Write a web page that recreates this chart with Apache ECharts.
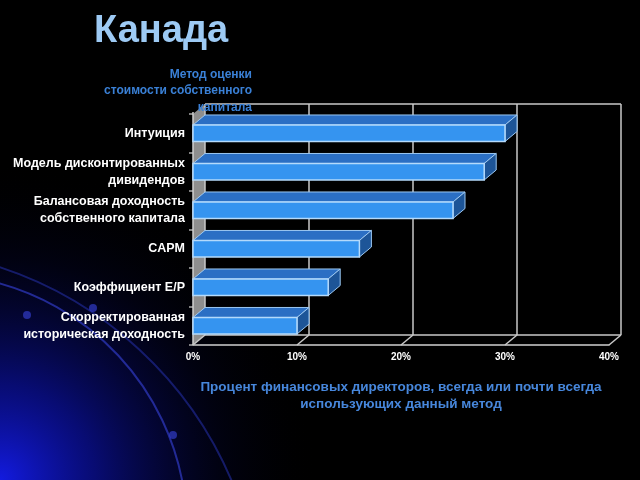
<!DOCTYPE html>
<html><head><meta charset="utf-8">
<script src="https://cdn.jsdelivr.net/npm/echarts@6/dist/echarts.min.js"></script>
<style>html,body{margin:0;padding:0;background:#000;}#c{width:640px;height:480px;}</style>
</head><body><div id="c"></div>
<script>
const categories = ['Интуиция','Модель дисконтированных\nдивидендов','Балансовая доходность\nсобственного капитала','CAPM','Коэффициент E/P','Скорректированная\nисторическая доходность'];
const values = [30, 28, 25, 16, 13, 10];
const xTicks = [0, 10, 20, 30, 40];
const titleText = 'Канада';
const yName = 'Метод оценки\nстоимости собственного\nкапитала';
const xName = 'Процент финансовых директоров, всегда или почти всегда\nиспользующих данный метод';

const DX = 12, DY = 10;
const FONT = '"Liberation Sans", Arial, sans-serif';
const chart = echarts.init(document.getElementById('c'), null, {renderer:'canvas'});

function frameItem(params, api){
  const cs = params.coordSys;
  const x0 = cs.x, y0 = cs.y, w = cs.width, h = cs.height;
  const ls = {stroke:'#c8c8c8', lineWidth:1.5};
  return {type:'group', children:[
    {type:'polygon', shape:{points:[[x0,y0],[x0+DX,y0-DY],[x0+DX,y0+h-DY],[x0,y0+h]]}, style:{fill:'#8e8e8e'}},
    {type:'line', shape:{x1:x0+DX,y1:y0-DY,x2:x0+w+DX,y2:y0-DY}, style:ls},
    {type:'line', shape:{x1:x0+DX,y1:y0+h-DY,x2:x0+w+DX,y2:y0+h-DY}, style:ls},
    {type:'line', shape:{x1:x0,y1:y0-2,x2:x0,y2:y0+h}, style:{stroke:'#d0d0d0', lineWidth:1.5}}
  ]};
}
function gridItem(params, api){
  const cs = params.coordSys;
  const y0 = cs.y, h = cs.height;
  const px = api.coord([api.value(0), 0])[0];
  const ls = {stroke:'#c8c8c8', lineWidth:1.5};
  return {type:'group', children:[
    {type:'line', shape:{x1:px+DX,y1:y0-DY,x2:px+DX,y2:y0+h-DY}, style:ls},
    {type:'line', shape:{x1:px,y1:y0+h,x2:px+DX,y2:y0+h-DY}, style:ls}
  ]};
}
function barItem(params, api){
  const start = api.coord([0, api.value(1)]);
  const end = api.coord([api.value(0), api.value(1)]);
  const bh = api.size([0,1])[1]*0.43;
  const x0 = start[0], x1 = end[0], y = end[1]-bh/2;
  return {type:'group', children:[
    {type:'polygon', shape:{points:[[x0,y],[x0+DX,y-DY],[x1+DX,y-DY],[x1,y]]}, style:{fill:'#2b6fc4', stroke:'#9cc8f2', lineWidth:1}},
    {type:'polygon', shape:{points:[[x1,y],[x1+DX,y-DY],[x1+DX,y+bh-DY],[x1,y+bh]]}, style:{fill:'#1d5598', stroke:'#9cc8f2', lineWidth:1}},
    {type:'rect', shape:{x:x0,y:y,width:x1-x0,height:bh}, style:{fill:'#3594f0', stroke:'#b4dafc', lineWidth:1.5}}
  ]};
}

chart.setOption({
  backgroundColor:'#000',
  animation:false,
  title:{text:titleText, left:89, top:8, textStyle:{color:'#9dcaf4', fontSize:38, fontWeight:'bold', fontFamily:FONT}},
  graphic:[
    {type:'circle', z:-10, shape:{cx:0, cy:480, r:320}, style:{fill:{type:'radial', x:0.5, y:0.5, r:0.5, colorStops:[{offset:0,color:'rgba(20,28,235,0.95)'},{offset:0.3,color:'rgba(12,18,175,0.65)'},{offset:0.7,color:'rgba(5,8,80,0.2)'},{offset:1,color:'rgba(0,0,0,0)'}]}}},
    {type:'arc', z:-9, shape:{cx:-69, cy:530, r:256, startAngle:-1.35, endAngle:-0.15}, style:{stroke:'rgba(45,55,185,0.75)', lineWidth:2, fill:null}},
    {type:'arc', z:-9, shape:{cx:-120, cy:630, r:382, startAngle:-1.3, endAngle:-0.35}, style:{stroke:'rgba(35,45,160,0.6)', lineWidth:2, fill:null}},
    {type:'circle', z:-9, shape:{cx:93, cy:308, r:4}, style:{fill:'rgba(50,60,200,0.7)'}},
    {type:'circle', z:-9, shape:{cx:27, cy:315, r:4}, style:{fill:'rgba(50,60,200,0.7)'}},
    {type:'circle', z:-9, shape:{cx:173, cy:435, r:4}, style:{fill:'rgba(50,60,200,0.7)'}},
    {type:'text', z:5, x:252, y:66, style:{text:yName, align:'right', textAlign:'right', lineHeight:16.5, fill:'#3a80d6', font:'bold 12px '+FONT}}
  ],
  grid:{left:193, right:31, top:114, bottom:135, containLabel:false},
  xAxis:{type:'value', min:0, max:40, interval:10,
    name:xName, nameLocation:'middle', nameGap:34,
    nameTextStyle:{color:'#4787dc', fontSize:13.5, fontWeight:'bold', fontFamily:FONT, lineHeight:17, verticalAlign:'top'},
    axisLine:{show:true, lineStyle:{color:'#d0d0d0', width:1.5}},
    axisTick:{show:false}, splitLine:{show:false},
    axisLabel:{color:'#fff', fontSize:10, fontWeight:'bold', fontFamily:FONT, margin:7, formatter:'{value}%'}},
  yAxis:{type:'category', data:categories, inverse:true,
    axisLine:{show:false},
    axisTick:{show:true, length:4, lineStyle:{color:'#aaa', width:1.5}},
    axisLabel:{color:'#fff', fontSize:12.5, fontWeight:'bold', fontFamily:FONT, margin:8, lineHeight:17, align:'right'},
    splitLine:{show:false}},
  series:[
    {type:'custom', z:1, renderItem:frameItem, data:[[0]], encode:{x:0}, silent:true, clip:false},
    {type:'custom', z:2, renderItem:gridItem, data:xTicks.map(v=>[v]), encode:{x:0}, silent:true, clip:false},
    {type:'custom', z:3, renderItem:barItem, data:values.map((v,i)=>[v,i]), encode:{x:0, y:1}, clip:false}
  ]
});
</script></body></html>
